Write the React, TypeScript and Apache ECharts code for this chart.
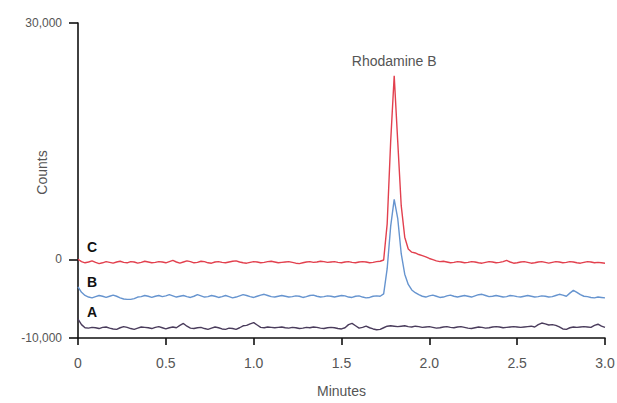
import React, { useEffect, useRef } from "react";
import * as echarts from "echarts";

// Sample times (minutes)
const TIME = [
  0, 0.02, 0.04, 0.06, 0.08, 0.1, 0.12, 0.14, 0.16, 0.18,
  0.2, 0.22, 0.24, 0.26, 0.28, 0.3, 0.32, 0.34, 0.36, 0.38,
  0.4, 0.42, 0.44, 0.46, 0.48, 0.5, 0.52, 0.54, 0.56, 0.58,
  0.6, 0.62, 0.64, 0.66, 0.68, 0.7, 0.72, 0.74, 0.76, 0.78,
  0.8, 0.82, 0.84, 0.86, 0.88, 0.9, 0.92, 0.94, 0.96, 0.98,
  1.0, 1.02, 1.04, 1.06, 1.08, 1.1, 1.12, 1.14, 1.16, 1.18,
  1.2, 1.22, 1.24, 1.26, 1.28, 1.3, 1.32, 1.34, 1.36, 1.38,
  1.4, 1.42, 1.44, 1.46, 1.48, 1.5, 1.52, 1.54, 1.56, 1.58,
  1.6, 1.62, 1.64, 1.66, 1.68, 1.7, 1.72, 1.74, 1.76, 1.78,
  1.8, 1.82, 1.84, 1.86, 1.88, 1.9, 1.92, 1.94, 1.96, 1.98,
  2.0, 2.02, 2.04, 2.06, 2.08, 2.1, 2.12, 2.14, 2.16, 2.18,
  2.2, 2.22, 2.24, 2.26, 2.28, 2.3, 2.32, 2.34, 2.36, 2.38,
  2.4, 2.42, 2.44, 2.46, 2.48, 2.5, 2.52, 2.54, 2.56, 2.58,
  2.6, 2.62, 2.64, 2.66, 2.68, 2.7, 2.72, 2.74, 2.76, 2.78,
  2.8, 2.82, 2.84, 2.86, 2.88, 2.9, 2.92, 2.94, 2.96, 2.98,
  3.0,
];

// Trace A (blank)
const SERIES_A = [
  -7600, -8300, -8700, -8750, -8650, -8700, -8800, -8650, -8600, -8750,
  -8850, -8900, -8700, -8550, -8650, -8800, -8900, -8750, -8600, -8650,
  -8700, -8800, -8650, -8550, -8700, -8850, -8700, -8600, -8700, -8400,
  -8150, -8500, -8750, -8800, -8700, -8650, -8800, -8900, -8750, -8600,
  -8700, -8850, -8900, -8750, -8800, -8900, -8700, -8450, -8400, -8200,
  -8050, -8350, -8650, -8700, -8600, -8650, -8700, -8650, -8600, -8700,
  -8750, -8650, -8700, -8800, -8750, -8650, -8700, -8600, -8650, -8750,
  -8800, -8700, -8650, -8700, -8800, -8850, -8700, -8300, -8150, -8450,
  -8750, -8650, -8500, -8700, -8850, -8950, -8900, -8700, -8500, -8450,
  -8500, -8550, -8500, -8450, -8550, -8600, -8500, -8550, -8650, -8600,
  -8550, -8650, -8750, -8700, -8600, -8550, -8650, -8700, -8600, -8550,
  -8650, -8750, -8800, -8700, -8600, -8650, -8750, -8700, -8600, -8550,
  -8600, -8700, -8650, -8600, -8550, -8600, -8650, -8600, -8550, -8500,
  -8600, -8300, -8100, -8200, -8350, -8300, -8400, -8600, -8850, -8900,
  -8700, -8600, -8650, -8600, -8550, -8600, -8650, -8400, -8250, -8500,
  -8650,
];

// Trace B
const SERIES_B = [
  -3500, -4200, -4600, -4800, -4900, -4750, -4600, -4700, -4850, -4700,
  -4550, -4700, -4900, -5050, -5100, -5100, -5000, -4800, -4750, -4600,
  -4700, -4850, -4700, -4600, -4750, -4650, -4500, -4650, -4800, -4700,
  -4600, -4750, -4850, -4700, -4500, -4650, -4800, -4750, -4600, -4700,
  -4850, -4750, -4600, -4750, -4900, -4800, -4650, -4500, -4600, -4750,
  -4850, -4700, -4550, -4450, -4600, -4750, -4800, -4700, -4600, -4700,
  -4800, -4750, -4650, -4700, -4850, -4750, -4600, -4550, -4700, -4800,
  -4750, -4650, -4700, -4800, -4700, -4600, -4650, -4800, -4850, -4700,
  -4650, -4800, -4900, -4850, -4700, -4650, -4700, -4400, -1200, 4200,
  7600, 5200, 700, -1900, -3200, -3900, -4250, -4500, -4700, -4800,
  -4650, -4550, -4700, -4850, -4800, -4650, -4550, -4700, -4800, -4700,
  -4600, -4700, -4800, -4650, -4500, -4450, -4600, -4750, -4700, -4600,
  -4700, -4800, -4750, -4600, -4650, -4750, -4800, -4700, -4600, -4700,
  -4800, -4750, -4650, -4700, -4800, -4750, -4600, -4450, -4550, -4700,
  -4300, -3950, -4200, -4500, -4700, -4750, -4850, -4900, -4800, -4850,
  -4900,
];

// Trace C
const SERIES_C = [
  0, -300, -450, -350, -200, -400, -550, -450, -300, -400,
  -500, -350, -250, -400, -450, -300, -350, -500, -400, -250,
  -350, -450, -400, -300, -350, -450, -300, -150, -350, -500,
  -350, -200, -300, -450, -400, -250, -300, -450, -500, -350,
  -300, -400, -450, -350, -250, -200, -350, -450, -500, -400,
  -300, -350, -450, -400, -300, -250, -350, -450, -400, -350,
  -300, -400, -500, -550, -450, -350, -300, -400, -350, -250,
  -300, -400, -350, -300, -400, -450, -350, -300, -400, -450,
  -350, -300, -350, -450, -400, -300, -250, -100, 4500, 15000,
  23300, 15000, 6800, 2800, 1300, 900, 800, 600, 450, 300,
  100, -50, -200, -300, -250, -350, -450, -400, -300, -350,
  -450, -400, -300, -350, -450, -500, -400, -300, -350, -450,
  -400, -300, -150, -350, -500, -450, -350, -300, -400, -500,
  -450, -350, -300, -400, -500, -400, -300, -350, -450, -400,
  -300, -350, -450, -500, -400, -300, -350, -450, -400, -450,
  -500,
];

const SERIES_NAMES = ["A", "B", "C"];
const X_TICKS = [0, 0.5, 1.0, 1.5, 2.0, 2.5, 3.0];
const Y_TICKS = [-10000, 0, 30000];
const PEAK_LABEL = "Rhodamine B";
const X_NAME = "Minutes";
const Y_NAME = "Counts";

const FONT = "'Liberation Sans', Arial, sans-serif";
const COLORS = { A: "#4a3c5c", B: "#6694cf", C: "#e2404e" };

export default function App() {
  const ref = useRef<HTMLDivElement>(null);

  useEffect(() => {
    if (!ref.current) return;
    const chart = echarts.init(ref.current, undefined, { renderer: "svg" });

    const pairs = (vals: number[]) => TIME.map((t, i) => [t, vals[i]]);
    const peakIdx = SERIES_C.indexOf(Math.max(...SERIES_C));

    const option: any = {
      animation: false,
      backgroundColor: "#ffffff",
      grid: { left: 78, right: 12, top: 23, bottom: 65, containLabel: false, outerBoundsMode: "none" },
      xAxis: {
        type: "value",
        min: 0,
        max: 3,
        interval: 0.5,
        name: X_NAME,
        nameLocation: "middle",
        nameGap: 46,
        nameMoveOverlap: false,
        nameTextStyle: { fontFamily: FONT, fontSize: 14, color: "#555" },
        splitLine: { show: false },
        axisLine: { show: true, onZero: false, lineStyle: { color: "#111", width: 1.6 } },
        axisTick: { show: true, inside: false, length: 7, customValues: X_TICKS, lineStyle: { color: "#111", width: 1.6 } },
        axisLabel: {
          customValues: X_TICKS,
          margin: 18,
          fontFamily: FONT,
          fontSize: 14,
          color: "#555",
          formatter: (v: number) => (v === 0 ? "0" : v.toFixed(1)),
        },
      },
      yAxis: {
        type: "value",
        min: -10000,
        max: 30000,
        interval: 10000,
        name: Y_NAME,
        nameLocation: "middle",
        nameGap: 29,
        nameRotate: 90,
        nameMoveOverlap: false,
        nameTextStyle: { fontFamily: FONT, fontSize: 14, color: "#555", padding: [0, 0, 0, 16] },
        splitLine: { show: false },
        axisLine: { show: true, lineStyle: { color: "#111", width: 1.6 } },
        axisTick: { show: true, length: 9, customValues: Y_TICKS, lineStyle: { color: "#111", width: 1.6 } },
        axisLabel: {
          customValues: Y_TICKS,
          margin: 16,
          fontFamily: FONT,
          fontSize: 12,
          color: "#555",
          formatter: (v: number) => v.toLocaleString("en-US"),
        },
      },
      series: [
        {
          name: SERIES_NAMES[0],
          type: "line",
          data: pairs(SERIES_A),
          showSymbol: false,
          symbol: "none",
          lineStyle: { color: COLORS.A, width: 1.4 },
          z: 3,
        },
        {
          name: SERIES_NAMES[1],
          type: "line",
          data: pairs(SERIES_B),
          showSymbol: false,
          symbol: "none",
          lineStyle: { color: COLORS.B, width: 1.4 },
          z: 4,
        },
        {
          name: SERIES_NAMES[2],
          type: "line",
          data: pairs(SERIES_C),
          showSymbol: false,
          symbol: "none",
          lineStyle: { color: COLORS.C, width: 1.4 },
          z: 5,
          markPoint: {
            symbol: "circle",
            symbolSize: 0,
            data: [{ coord: [TIME[peakIdx], SERIES_C[peakIdx]] }],
            label: {
              show: true,
              position: "top",
              distance: 8,
              formatter: PEAK_LABEL,
              fontFamily: FONT,
              fontSize: 14,
              color: "#555",
            },
          },
        },
      ],
      graphic: [
        { type: "text", x: 92, y: 247, style: { text: SERIES_NAMES[2], font: "bold 14px " + FONT, fill: "#111", textAlign: "center", textVerticalAlign: "middle" } },
        { type: "text", x: 92, y: 282, style: { text: SERIES_NAMES[1], font: "bold 14px " + FONT, fill: "#111", textAlign: "center", textVerticalAlign: "middle" } },
        { type: "text", x: 92, y: 312, style: { text: SERIES_NAMES[0], font: "bold 14px " + FONT, fill: "#111", textAlign: "center", textVerticalAlign: "middle" } },
      ],
    };

    chart.setOption(option);
    return () => chart.dispose();
  }, []);

  return (
    <div
      ref={ref}
      style={{ position: "fixed", left: 0, top: 0, width: 617, height: 403, background: "#fff" }}
    />
  );
}
